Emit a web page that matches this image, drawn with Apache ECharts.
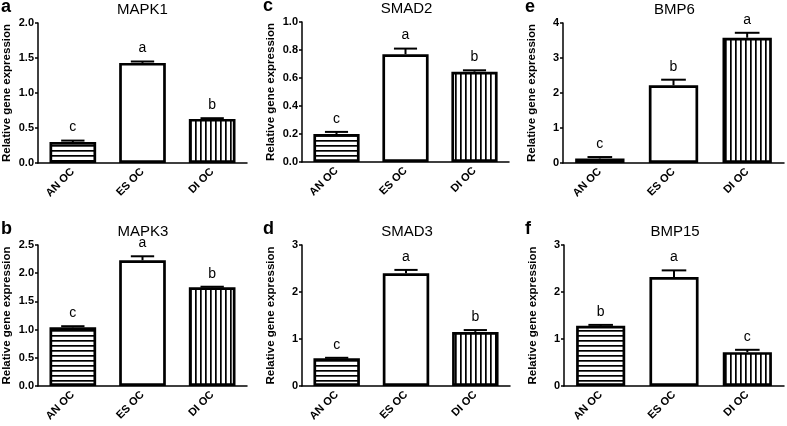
<!DOCTYPE html>
<html><head><meta charset="utf-8">
<script src="https://cdn.jsdelivr.net/npm/echarts@6/dist/echarts.min.js"></script>
<style>html,body{margin:0;padding:0;background:#fff}#c{width:787px;height:426px}</style>
</head><body><div id="c"></div>
<script>
const categories = ['AN OC', 'ES OC', 'DI OC'];
const genes = ['MAPK1', 'SMAD2', 'BMP6', 'MAPK3', 'SMAD3', 'BMP15'];
const panelLetters = ['a', 'c', 'e', 'b', 'd', 'f'];

const mapk1 = [0.30, 1.43, 0.63];
const mapk1Err = [0.02, 0.02, 0.01];
const mapk1Sig = ['c', 'a', 'b'];

const smad2 = [0.20, 0.77, 0.645];
const smad2Err = [0.015, 0.04, 0.01];
const smad2Sig = ['c', 'a', 'b'];

const bmp6 = [0.13, 2.22, 3.58];
const bmp6Err = [0.04, 0.16, 0.14];
const bmp6Sig = ['c', 'b', 'a'];

const mapk3 = [1.04, 2.23, 1.75];
const mapk3Err = [0.02, 0.07, 0.01];
const mapk3Sig = ['c', 'a', 'b'];

const smad3 = [0.59, 2.40, 1.15];
const smad3Err = [0.01, 0.07, 0.04];
const smad3Sig = ['c', 'a', 'b'];

const bmp15 = [1.28, 2.32, 0.72];
const bmp15Err = [0.02, 0.14, 0.05];
const bmp15Sig = ['b', 'a', 'c'];

const yMax = [2.0, 1.0, 4, 2.5, 3, 3];
const yStep = [0.5, 0.2, 1, 0.5, 1, 1];
const yDecimals = [1, 1, 0, 1, 0, 0];

const values = [mapk1, smad2, bmp6, mapk3, smad3, bmp15];
const errors = [mapk1Err, smad2Err, bmp6Err, mapk3Err, smad3Err, bmp15Err];
const sigs = [mapk1Sig, smad2Sig, bmp6Sig, mapk3Sig, smad3Sig, bmp15Sig];

// layout (px)
const grids = [
  {left: 36, top: 23, width: 211, height: 140},
  {left: 302, top: 22, width: 207, height: 140},
  {left: 563, top: 23, width: 221, height: 140},
  {left: 37, top: 245, width: 210, height: 141},
  {left: 302, top: 245, width: 208, height: 141},
  {left: 564, top: 245, width: 220, height: 141}
];

function stripe(horizontal) {
  const c = document.createElement('canvas');
  c.width = 5; c.height = 5;
  const g = c.getContext('2d');
  g.fillStyle = '#fff'; g.fillRect(0, 0, 5, 5);
  g.fillStyle = '#000';
  if (horizontal) g.fillRect(0, 0, 5, 1.7); else g.fillRect(0, 0, 1.7, 5);
  return c;
}
const fills = [
  {image: stripe(true), repeat: 'repeat'},
  '#ffffff',
  {image: stripe(false), repeat: 'repeat'}
];

const FONT = 'Arial, "Liberation Sans", sans-serif';
const option = {
  animation: false,
  backgroundColor: '#fff',
  title: [], grid: [], xAxis: [], yAxis: [], series: []
};

grids.forEach((gr, k) => {
  option.grid.push({left: gr.left, top: gr.top, width: gr.width, height: gr.height, containLabel: false});
  option.title.push({
    text: genes[k], left: gr.left + gr.width / 2 + 1, top: gr.top - 21, padding: 0, textAlign: 'center',
    textStyle: {fontFamily: FONT, fontSize: 15, fontWeight: 'normal', color: '#000'}
  });
  option.title.push({
    text: panelLetters[k], left: (k % 3 === 0 ? 1 : (k % 3 === 1 ? 263 : 525)), top: gr.top - 25, padding: 0,
    textStyle: {fontFamily: FONT, fontSize: 18, fontWeight: 'bold', color: '#000'}
  });
  option.xAxis.push({
    type: 'category', gridIndex: k, data: categories,
    axisLine: {lineStyle: {color: '#000', width: 1.5}},
    axisTick: {alignWithLabel: true, length: 4, lineStyle: {color: '#000', width: 1.5}},
    axisLabel: {rotate: 45, margin: 7, fontFamily: FONT, fontSize: 11, fontWeight: 'bold', color: '#000', interval: 0}
  });
  option.yAxis.push({
    type: 'value', gridIndex: k, min: 0, max: yMax[k], interval: yStep[k],
    name: 'Relative gene expression', nameLocation: 'middle', nameGap: 25,
    nameTextStyle: {fontFamily: FONT, fontSize: 11.5, fontWeight: 'bold', color: '#000'},
    axisLine: {show: true, lineStyle: {color: '#000', width: 1.5}},
    axisTick: {show: true, length: 3, lineStyle: {color: '#000', width: 1.5}},
    splitLine: {show: false},
    axisLabel: {margin: 4, fontFamily: FONT, fontSize: 11, fontWeight: 'bold', color: '#000',
      formatter: v => v.toFixed(yDecimals[k])}
  });
  option.series.push({
    type: 'bar', xAxisIndex: k, yAxisIndex: k, barWidth: '67%',
    data: values[k].map((v, i) => ({value: v, itemStyle: {color: fills[i], borderColor: '#000', borderWidth: 2.7}}))
  });
  const sig = sigs[k];
  option.series.push({
    type: 'custom', xAxisIndex: k, yAxisIndex: k, z: 5,
    data: values[k].map((v, i) => [i, v, errors[k][i]]),
    renderItem: (params, api) => {
      const x = api.value(0), v = api.value(1), e = api.value(2);
      const top = api.coord([x, v]);
      const cap = api.coord([x, v + e]);
      const bw = api.size([1, 0])[0] * 0.67;
      const cw = bw * 0.5;
      return {type: 'group', children: [
        {type: 'line', shape: {x1: top[0], y1: top[1], x2: cap[0], y2: cap[1]}, style: {stroke: '#000', lineWidth: 2}},
        {type: 'line', shape: {x1: cap[0] - cw / 2, y1: cap[1], x2: cap[0] + cw / 2, y2: cap[1]}, style: {stroke: '#000', lineWidth: 2}},
        {type: 'text', x: cap[0], y: cap[1] - 13, style: {text: sig[params.dataIndex], align: 'center', verticalAlign: 'middle',
          font: '14px Arial, "Liberation Sans", sans-serif', fill: '#000'}}
      ]};
    }
  });
});

const chart = echarts.init(document.getElementById('c'), null, {renderer: 'canvas'});
chart.setOption(option);
</script>
</body></html>
